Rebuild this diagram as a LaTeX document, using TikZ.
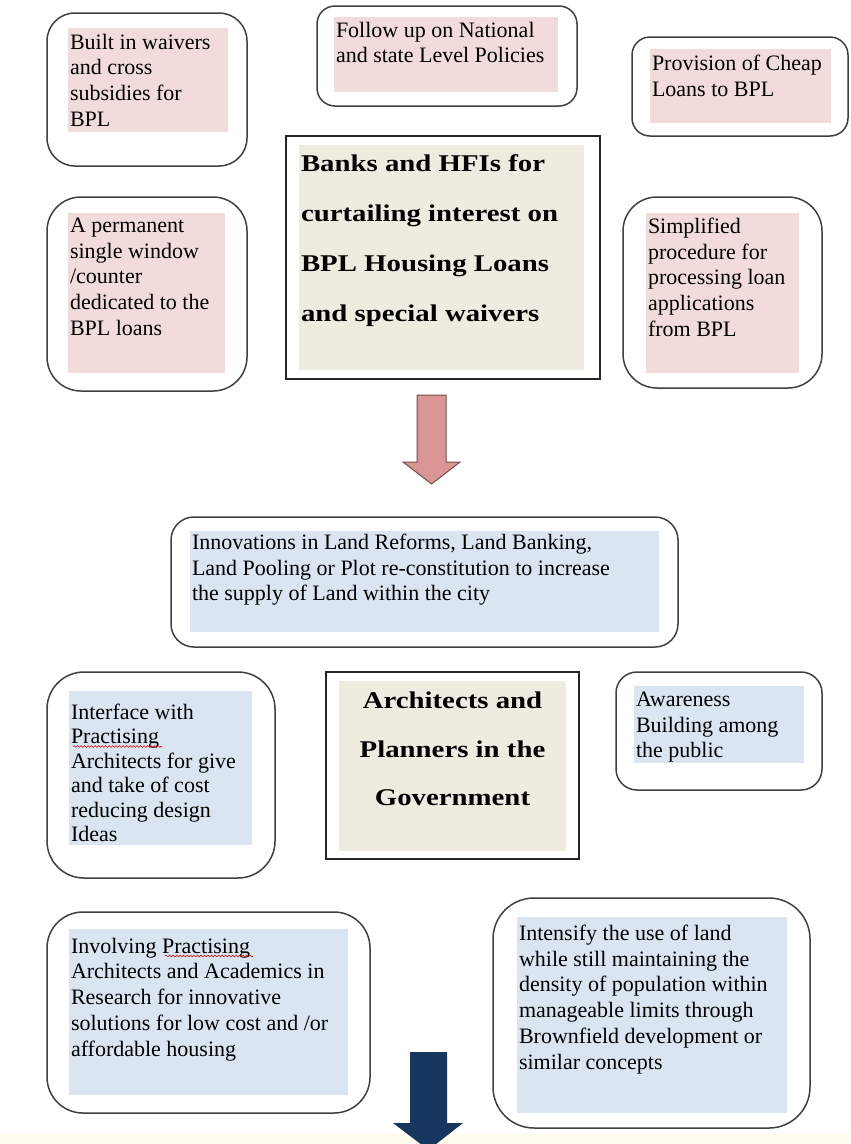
\documentclass[tikz,border=0pt]{standalone}
\usepackage{fontspec}
\setmainfont{Liberation Serif}
\newfontfamily\headfont[FakeStretch=1.2]{Liberation Serif}
\usepackage{tikz}
\usetikzlibrary{decorations.pathmorphing}
\usepackage{xcolor}
\definecolor{pinkbg}{HTML}{F2DCDB}
\definecolor{bluebg}{HTML}{DBE5F1}
\definecolor{beigebg}{HTML}{EEECE1}
\definecolor{arrowpink}{HTML}{D99694}
\definecolor{arrowedge}{HTML}{7A4B4B}
\definecolor{arrownavy}{HTML}{17375E}
\definecolor{stripbg}{HTML}{FEFDEE}
\definecolor{edgegray}{HTML}{404040}

\newcommand{\filltext}[4][3pt]{\parbox[t][#3][t]{#2}{\raggedright\vspace*{#1}#4}}
\newcommand{\centertext}[4][3pt]{\parbox[t][#3][t]{#2}{\centering\vspace*{#1}#4}}

\begin{document}
\begin{tikzpicture}[x=1pt, y=-1pt,
  roundbox/.style={draw=edgegray, line width=1.5pt, rounded corners=#1, inner sep=0pt, outer sep=0pt, anchor=north west},
  roundbox/.default=30pt,
  framebox/.style={draw=black!85, line width=1.5pt, inner sep=0pt, outer sep=0pt, anchor=north west},
  pinkfill/.style={fill=pinkbg, inner xsep=2pt, inner ysep=3pt, outer sep=0pt, anchor=north west, font=\fontsize{22}{25.7}\selectfont},
  bluefill/.style={pinkfill, fill=bluebg},
  headfill/.style={pinkfill, fill=beigebg, font=\headfont\bfseries\fontsize{24}{50}\selectfont},
  blockarrow/.style={line width=1pt, line join=miter},
  spellmark/.style={draw=red!85!black, line width=0.6pt, decorate, decoration={snake, segment length=3.5pt, amplitude=0.9pt}}
]
\path[use as bounding box, fill=white] (0,0) rectangle (851,1144);
\fill[stripbg] (0,1133) rectangle (851,1144);

\node[roundbox=28pt, minimum width=200pt, minimum height=153pt] (waivers) at (47,13) {};
\node[pinkfill] (waivers-txt) at (68,28) {\filltext{156pt}{98pt}{Built in waivers\\and cross\\subsidies for\\BPL}};

\node[roundbox=18pt, minimum width=260pt, minimum height=100pt] (follow) at (317,6) {};
\node[pinkfill] (follow-txt) at (334,17) {\filltext[2pt]{220pt}{69pt}{Follow up on National\\and state Level Policies}};

\node[roundbox=18pt, minimum width=216pt, minimum height=99pt] (cheap) at (632,37) {};
\node[pinkfill] (cheap-txt) at (650,49) {\filltext{177pt}{68pt}{Provision of Cheap\\Loans to BPL}};

\node[framebox, minimum width=314pt, minimum height=243pt] (banks) at (286,136) {};
\node[headfill] (banks-txt) at (299,145) {\filltext[7pt]{281pt}{219pt}{Banks and HFIs for\\curtailing interest on\\BPL Housing Loans\\and special waivers}};

\node[roundbox=34pt, minimum width=200pt, minimum height=194pt] (window) at (47,197) {};
\node[pinkfill] (window-txt) at (68,213) {\filltext[2pt]{153pt}{154pt}{A permanent\\single window\\/counter\\dedicated to the\\BPL loans}};

\node[roundbox=34pt, minimum width=199pt, minimum height=191pt] (simplified) at (623,197) {};
\node[pinkfill] (simplified-txt) at (646,213) {\filltext[2pt]{149pt}{154pt}{Simplified\\procedure for\\processing loan\\applications\\from BPL}};

\draw[blockarrow, fill=arrowpink, draw=arrowedge] (417,395) -- (446,395) -- (446,462) -- (460,462) -- (431.5,484) -- (403,462) -- (417,462) -- cycle;

\node[roundbox=23pt, minimum width=507pt, minimum height=130pt] (landsupply) at (171,517) {};
\node[bluefill] (landsupply-txt) at (190,531) {\filltext[0pt]{465pt}{95pt}{Innovations in Land Reforms, Land Banking,\\Land Pooling or Plot re-constitution to increase\\the supply of Land within the city}};

\node[roundbox=37pt, minimum width=228pt, minimum height=206pt] (interface) at (47,672) {};
\node[bluefill, font=\fontsize{22}{24.5}\selectfont] (interface-txt) at (69,691) {\filltext[10pt]{179pt}{148pt}{Interface with\\Practising\\Architects for give\\and take of cost\\reducing design\\Ideas}};
\draw[spellmark] (73,746.5) -- (162,746.5);

\node[framebox, minimum width=253pt, minimum height=187pt] (planners) at (326,672) {};
\node[headfill, font=\headfont\bfseries\fontsize{24}{48.5}\selectfont] (planners-txt) at (339,681) {\centertext[8pt]{223pt}{164pt}{Architects and\\Planners in the\\Government}};

\node[roundbox=21pt, minimum width=206pt, minimum height=118pt] (awareness) at (616,672) {};
\node[bluefill] (awareness-txt) at (634,686) {\filltext{166pt}{71pt}{Awareness\\Building among\\the public}};

\node[roundbox=36pt, minimum width=323pt, minimum height=201pt] (research) at (47,912) {};
\node[bluefill] (research-txt) at (69,929) {\filltext[6pt]{275pt}{160pt}{Involving Practising\\Architects and Academics in\\Research for innovative\\solutions for low cost and /or\\affordable housing}};
\draw[spellmark] (165,956) -- (253,956);

\node[roundbox=41pt, minimum width=317pt, minimum height=230pt] (intensify) at (493,898) {};
\node[bluefill] (intensify-txt) at (517,917) {\filltext[5pt]{266pt}{190pt}{Intensify the use of land\\while still maintaining the\\density of population within\\manageable limits through\\Brownfield development or\\similar concepts}};

\fill[arrownavy] (410,1052) -- (447,1052) -- (447,1123) -- (463,1123) -- (428.5,1150) -- (393,1123) -- (410,1123) -- cycle;
\end{tikzpicture}
\end{document}
